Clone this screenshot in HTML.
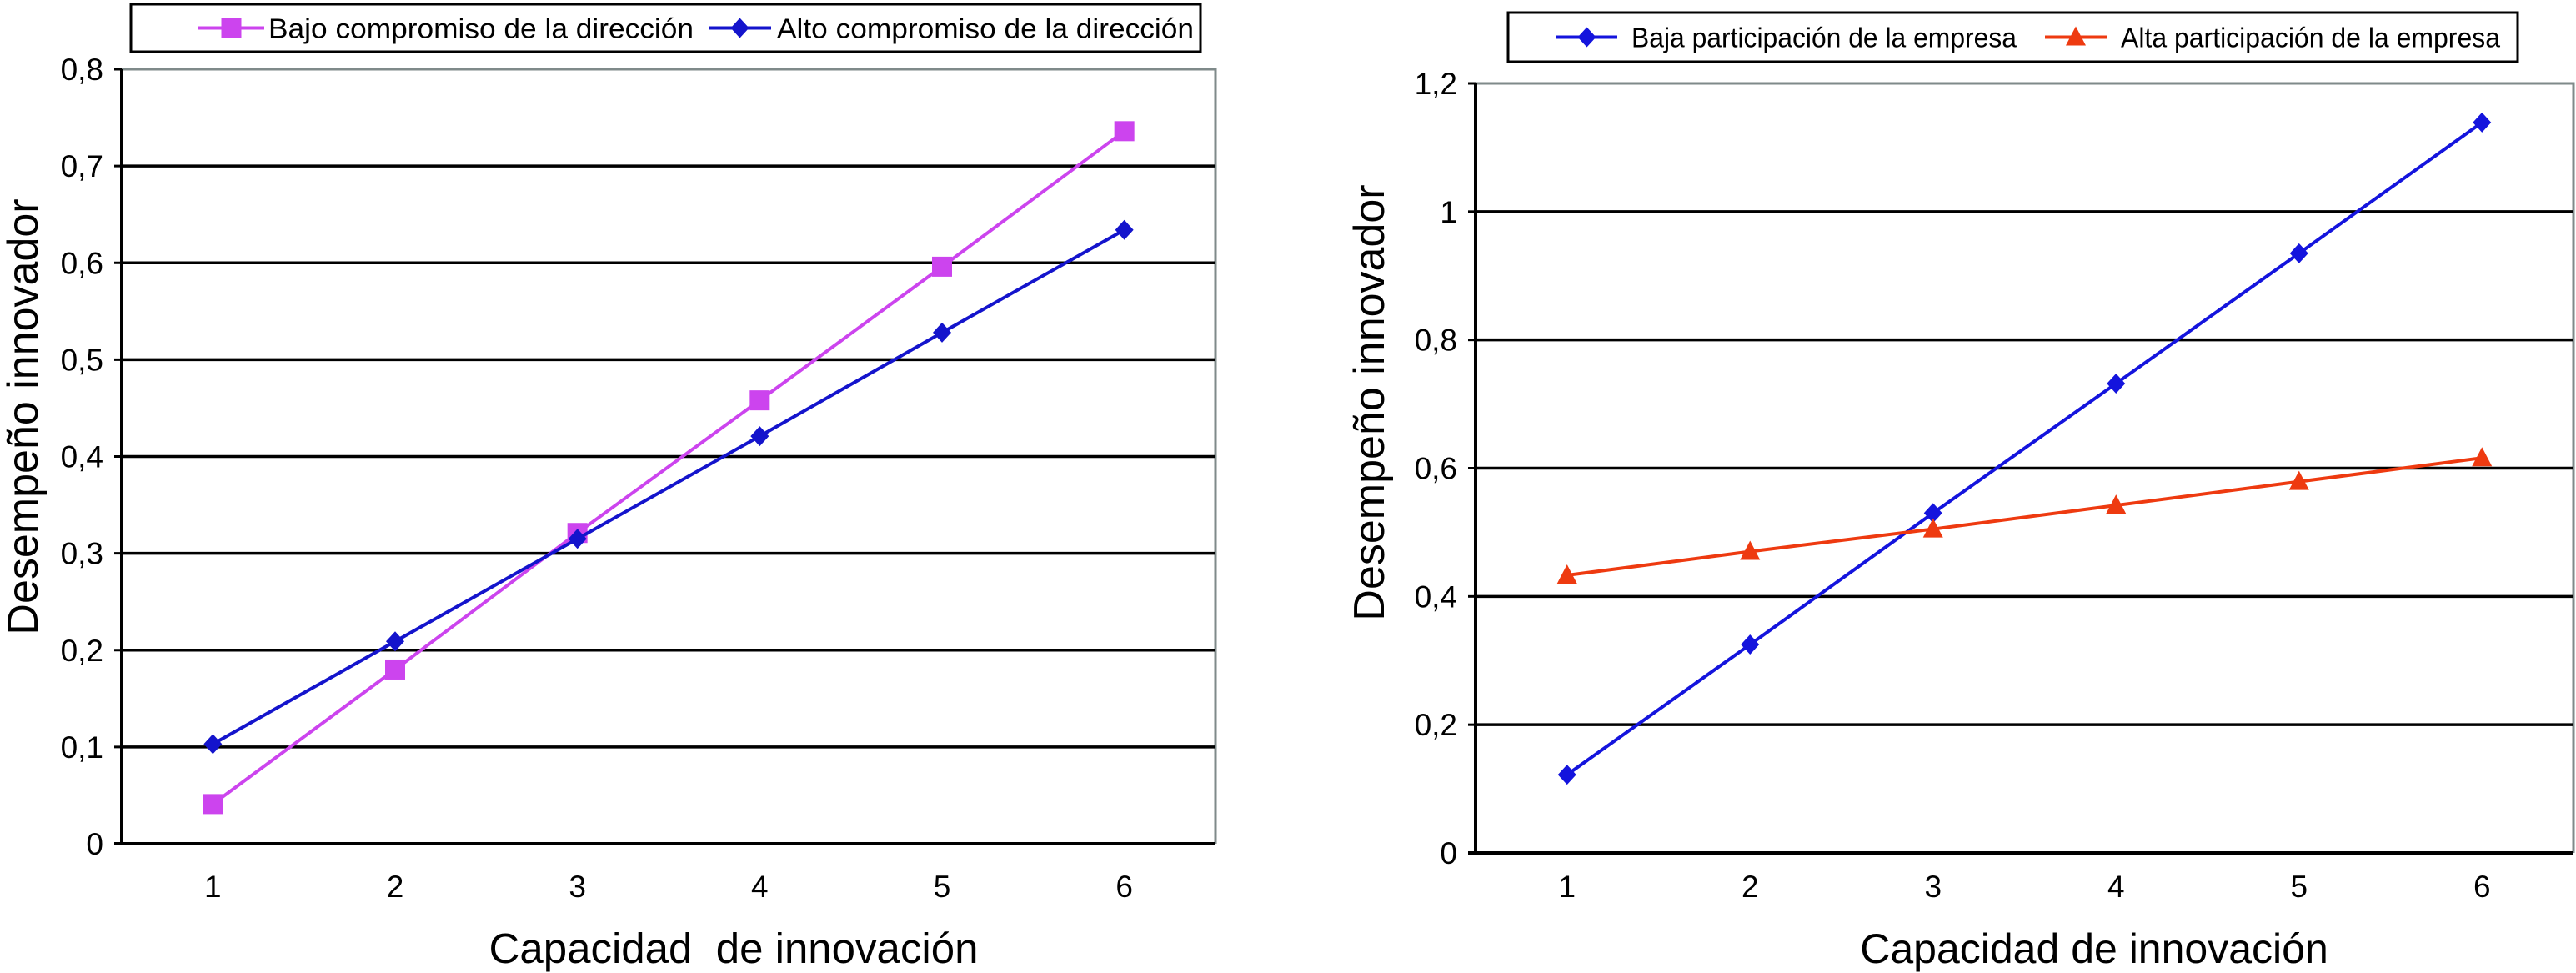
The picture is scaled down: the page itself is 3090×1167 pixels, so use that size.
<!DOCTYPE html>
<html><head><meta charset="utf-8"><style>
html,body{margin:0;padding:0;background:#fff;}
svg{display:block;font-family:"Liberation Sans",Arial,sans-serif;}
</style></head><body>
<svg id="svg" width="3090" height="1167" viewBox="0 0 3090 1167" xmlns="http://www.w3.org/2000/svg">
</svg>
<script>
const categories = [1, 2, 3, 4, 5, 6];
const leftTicks = ["0", "0,1", "0,2", "0,3", "0,4", "0,5", "0,6", "0,7", "0,8"];
const leftTickValues = [0, 0.1, 0.2, 0.3, 0.4, 0.5, 0.6, 0.7, 0.8];
const bajoCompromiso = [0.041, 0.18, 0.321, 0.458, 0.596, 0.736];
const altoCompromiso = [0.103, 0.209, 0.315, 0.421, 0.528, 0.634];
const rightTicks = ["0", "0,2", "0,4", "0,6", "0,8", "1", "1,2"];
const rightTickValues = [0, 0.2, 0.4, 0.6, 0.8, 1.0, 1.2];
const bajaParticipacion = [0.122, 0.325, 0.53, 0.732, 0.935, 1.139];
const altaParticipacion = [0.433, 0.47, 0.505, 0.542, 0.579, 0.616];

const NS = "http://www.w3.org/2000/svg";
const svg = document.getElementById('svg');
function mk(tag, attrs, parent, text) {
  const e = document.createElementNS(NS, tag);
  for (const k in attrs) e.setAttribute(k, attrs[k]);
  if (text !== undefined) e.textContent = text;
  (parent || svg).appendChild(e);
  return e;
}
function marker(g, shape, x, y, color) {
  let m;
  if (shape === 'square') m = mk('rect', {x: x - 12, y: y - 12, width: 24, height: 24, fill: color}, g);
  else if (shape === 'diamond') m = mk('polygon', {points: `${x},${y-12} ${x+11},${y} ${x},${y+12} ${x-11},${y}`, fill: color}, g);
  else m = mk('polygon', {points: `${x},${y-13} ${x+12},${y+10} ${x-12},${y+10}`, fill: color}, g);
  return m;
}

function chart(cfg) {
  const g = mk('g', {});
  
  
  const {x0, x1, yTop, yBot, yMax} = cfg;
  const xScale = i => x0 + (x1 - x0) / categories.length * (i + 0.5);
  const yScale = v => yBot - (v / yMax) * (yBot - yTop);
  const b = mk('path', {d: `M${x0},${yTop} H${x1} V${yBot}`, stroke: '#7f8a8a', 'stroke-width': 3, fill: 'none'}, g);
  
  
  cfg.tickValues.forEach((v, i) => {
    const y = yScale(v);
    if (v > 0 && v < yMax) {
      const gl = mk('line', {x1: x0, x2: x1, y1: y, y2: y, stroke: '#000', 'stroke-width': 3.5}, g);
      
      
    }
    mk('line', {x1: x0 - 9, x2: x0, y1: y, y2: y, stroke: '#000', 'stroke-width': 3}, g);
    const t = mk('text', {x: cfg.labelRight, y: y + 13, 'font-size': 37, 'text-anchor': 'end'}, g, cfg.ticks[i]);
    
    
  });
  const ax = mk('line', {x1: x0 - 9, x2: x1, y1: yBot, y2: yBot, stroke: '#000', 'stroke-width': 4}, g);
  
  
  const ay = mk('line', {x1: x0, x2: x0, y1: yTop, y2: yBot, stroke: '#000', 'stroke-width': 4}, g);
  
  
  categories.forEach((c, i) => {
    const t = mk('text', {x: xScale(i), y: 1076, 'font-size': 37, 'text-anchor': 'middle'}, g, String(c));
    
    
  });
  cfg.series.forEach(s => {
    const sg = mk('g', {}, g);
    
    
    const pts = s.values.map((v, i) => `${xScale(i)},${yScale(v)}`).join(' ');
    mk('polyline', {points: pts, fill: 'none', stroke: s.color, 'stroke-width': 4}, sg);
    s.values.forEach((v, i) => {
      const m = marker(sg, s.shape, xScale(i), yScale(v), s.color);
      
      
    });
  });
  const yt = mk('text', {x: 0, y: 0, 'font-size': 52, 'text-anchor': 'middle', transform: `translate(${cfg.yTitleX},${cfg.yTitleY}) rotate(-90)`}, g, 'Desempeño innovador');
  
  
  const xt = mk('text', {x: cfg.xTitleX, y: 1155, 'font-size': cfg.xTitleSize, 'text-anchor': 'middle'}, g, cfg.xTitle);
  
  
  const lg = mk('g', {}, g);
  
  
  const L = cfg.legend;
  mk('rect', {x: L.x, y: L.y, width: L.w, height: L.h, fill: '#fff', stroke: '#000', 'stroke-width': 3}, lg);
  L.items.forEach((it, k) => {
    const s = cfg.series[k];
    const eg = mk('g', {}, lg);
    
    
    const cy = L.y + L.h / 2;
    mk('line', {x1: it.l0, x2: it.l1, y1: cy, y2: cy, stroke: s.color, 'stroke-width': 4}, eg);
    marker(eg, s.shape, (it.l0 + it.l1) / 2, cy, s.color);
    mk('text', {x: it.t0, y: cy + 12, 'font-size': 33, textLength: it.tw, lengthAdjust: 'spacingAndGlyphs'}, eg, s.label);
  });
}

chart({
  name: 'left-chart', x0: 146, x1: 1458, yTop: 83, yBot: 1012, yMax: 0.8,
  ticks: leftTicks, tickValues: leftTickValues, labelRight: 124,
  yTitleX: 45, yTitleY: 500, xTitleX: 880, xTitleSize: 51, xTitle: 'Capacidad\u00a0 de innovación',
  series: [
    {name: 'series-bajo-compromiso', label: 'Bajo compromiso de la dirección', values: bajoCompromiso, color: '#cc44ee', shape: 'square'},
    {name: 'series-alto-compromiso', label: 'Alto compromiso de la dirección', values: altoCompromiso, color: '#1414cc', shape: 'diamond'}
  ],
  legend: {x: 157, y: 5, w: 1283, h: 57, items: [
    {l0: 238, l1: 317, t0: 322, tw: 510},
    {l0: 850, l1: 925, t0: 932, tw: 500}
  ]}
});
chart({
  name: 'right-chart', x0: 1770, x1: 3087, yTop: 100, yBot: 1023, yMax: 1.2,
  ticks: rightTicks, tickValues: rightTickValues, labelRight: 1748,
  yTitleX: 1660, yTitleY: 483, xTitleX: 2512, xTitleSize: 50, xTitle: 'Capacidad de innovación',
  series: [
    {name: 'series-baja-participacion', label: 'Baja participación de la empresa', values: bajaParticipacion, color: '#1414dd', shape: 'diamond'},
    {name: 'series-alta-participacion', label: 'Alta participación de la empresa', values: altaParticipacion, color: '#ee3a10', shape: 'triangle'}
  ],
  legend: {x: 1809, y: 15, w: 1211, h: 59, items: [
    {l0: 1867, l1: 1940, t0: 1957, tw: 462},
    {l0: 2453, l1: 2527, t0: 2544, tw: 455}
  ]}
});
</script>
</body></html>
